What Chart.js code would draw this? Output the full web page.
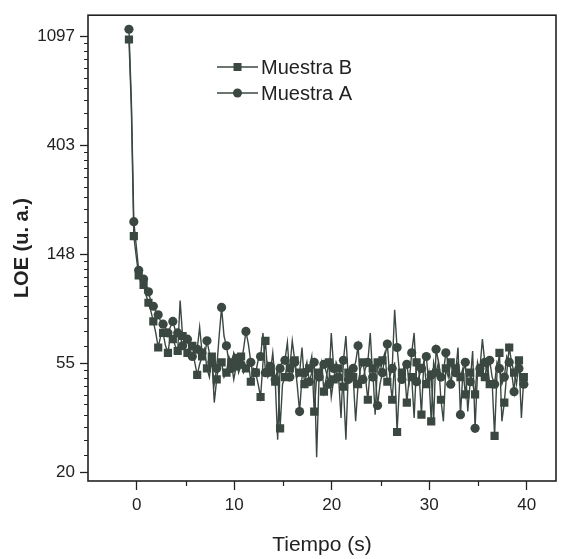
<!DOCTYPE html>
<html>
<head>
<meta charset="utf-8">
<script src="https://cdn.jsdelivr.net/npm/chart.js@4.4.1/dist/chart.umd.min.js"></script>
<style>
  html, body { margin: 0; padding: 0; background: #fff; }
  #wrap { width: 569px; height: 559px; }
</style>
</head>
<body>
<div id="wrap"><canvas id="loeChart" width="569" height="559"></canvas></div>
<script>
// Tiempo (s) de cada lectura
const tiempo = [
  -0.8,-0.55,-0.3,-0.05,0.2,0.45,0.7,0.95,1.2,1.45,1.7,1.95,2.2,2.45,2.7,2.95,3.2,3.45,3.7,3.95,
  4.2,4.45,4.7,4.95,5.2,5.45,5.7,5.95,6.2,6.45,6.7,6.95,7.2,7.45,7.7,7.95,8.2,8.45,8.7,8.95,
  9.2,9.45,9.7,9.95,10.2,10.45,10.7,10.95,11.2,11.45,11.7,11.95,12.2,12.45,12.7,12.95,13.2,13.45,13.7,13.95,
  14.2,14.45,14.7,14.95,15.2,15.45,15.7,15.95,16.2,16.45,16.7,16.95,17.2,17.45,17.7,17.95,18.2,18.45,18.7,18.95,
  19.2,19.45,19.7,19.95,20.2,20.45,20.7,20.95,21.2,21.45,21.7,21.95,22.2,22.45,22.7,22.95,23.2,23.45,23.7,23.95,
  24.2,24.45,24.7,24.95,25.2,25.45,25.7,25.95,26.2,26.45,26.7,26.95,27.2,27.45,27.7,27.95,28.2,28.45,28.7,28.95,
  29.2,29.45,29.7,29.95,30.2,30.45,30.7,30.95,31.2,31.45,31.7,31.95,32.2,32.45,32.7,32.95,33.2,33.45,33.7,33.95,
  34.2,34.45,34.7,34.95,35.2,35.45,35.7,35.95,36.2,36.45,36.7,36.95,37.2,37.45,37.7,37.95,38.2,38.45,38.7,38.95,
  39.2,39.45,39.7
];

// LOE (u. a.) - Muestra A (circulos)
const muestraA = [
  1169,600, 200,160, 128,122, 118,112, 105,96, 92,88, 85,80, 78,75, 72,76, 80,74,
  72,70, 64,66, 68,60, 58,62, 62,76, 60,58, 67,60, 55,45, 52,70, 91,70,
  64,55, 52,60, 57,50, 54,62, 73,65, 55,48, 50,56, 58,72, 50,55, 53,50,
  47,27, 52,56, 56,66, 48,50, 55,45, 35,48, 50,55, 46,50, 55,23, 48,52,
  54,50, 45,72, 52,50, 48,33, 56,70, 47,50, 52,55, 64,45, 47,52, 55,72,
  48,50, 37,45, 50,58, 65,48, 52,89, 63,50, 47,55, 54,46, 60,72, 46,48,
  52,55, 58,45, 49,32, 62,55, 48,50, 60,55, 45,52, 50,63, 34,50, 55,35,
  46,61, 30,50, 52,68, 55,50, 56,48, 45,55, 52,45, 48,58, 55,50, 42,56,
  52,48, 45
];

// LOE (u. a.) - Muestra B (cuadrados)
const muestraB = [
  1064,560, 175,145, 122,118, 112,102, 95,88, 80,72, 63,70, 72,64, 60,70, 68,64,
  61,97, 70,62, 60,66, 64,55, 49,54, 58,62, 52,48, 58,38, 47,56, 55,48,
  50,58, 55,47, 53,56, 58,50, 52,55, 46,52, 50,45, 40,55, 67,48, 50,60,
  46,52, 30,45, 48,54, 52,67, 56,48, 50,63, 45,50, 52,58, 35,48, 50,55,
  42,48, 55,40, 47,55, 52,48, 44,27, 50,52, 48,32, 45,52, 55,48, 39,52,
  52,34, 55,50, 56,60, 46,48, 39,55, 29,45, 50,52, 38,48, 48,33, 55,50,
  34,56, 45,50, 32,55, 50,55, 39,32, 52,48, 55,50, 52,55, 48,52, 41,50,
  50,45, 41,55, 50,50, 48,55, 45,46, 28,50, 60,32, 38,50, 63,55, 50,45,
  56,33, 48
];

// Ejes
const xTicks = [0, 10, 20, 30, 40];
const xMinorTicks = [5, 15, 25, 35];
const yTicks = [20.0855, 54.598, 148.41, 403.43, 1096.63];
const yTickLabels = ['20', '55', '148', '403', '1097'];

const ink = '#222222';
const serieColor = '#3a4841';
const fontFamily = '"Liberation Sans", Arial, sans-serif';

// minor ticks of the ln axis: 9 linear steps between two majors
const yMinorTicks = [];
for (let i = 0; i < yTicks.length - 1; i++) {
    const step = (yTicks[i + 1] - yTicks[i]) / 10;
    for (let k = 1; k < 10; k++) {
        yMinorTicks.push(yTicks[i] + k * step);
    }
}

function toPoints(values) {
    return values.map(function(v, i) {
        return { x: tiempo[i], y: v };
    });
}

// symbols only on every second reading
function everyOther(size) {
    return function(ctx) {
        return ctx.dataIndex % 2 === 0 ? size : 0;
    };
}

const legendItems = [
    { label: 'Muestra B', style: 'rect', y: 67 },
    { label: 'Muestra A', style: 'circle', y: 93 }
];

function drawMarker(ctx, style, x, y) {
    ctx.beginPath();
    if (style === 'rect') {
        ctx.rect(x - 4, y - 4, 8, 8);
    } else {
        ctx.arc(x, y, 4.5, 0, Math.PI * 2);
    }
    ctx.fill();
}

const frameAndExtras = {
    id: 'frameAndExtras',
    afterDraw(chart) {
        const ctx = chart.ctx;
        const a = chart.chartArea;
        const x = chart.scales.x;
        const y = chart.scales.y;
        ctx.save();

        // plot frame
        ctx.strokeStyle = ink;
        ctx.lineWidth = 1.6;
        ctx.strokeRect(a.left, a.top, a.right - a.left, a.bottom - a.top);

        // minor ticks
        ctx.lineWidth = 1.2;
        ctx.beginPath();
        xMinorTicks.forEach(function(v) {
            const px = Math.round(x.getPixelForValue(v)) + 0.5;
            ctx.moveTo(px, a.bottom);
            ctx.lineTo(px, a.bottom + 5);
        });
        yMinorTicks.forEach(function(v) {
            const py = Math.round(y.getPixelForValue(v)) + 0.5;
            ctx.moveTo(a.left, py);
            ctx.lineTo(a.left - 4, py);
        });
        ctx.stroke();

        // legend inside the plot
        ctx.font = '20px ' + fontFamily;
        ctx.textBaseline = 'middle';
        ctx.textAlign = 'left';
        legendItems.forEach(function(item) {
            ctx.strokeStyle = serieColor;
            ctx.fillStyle = serieColor;
            ctx.lineWidth = 1.4;
            ctx.beginPath();
            ctx.moveTo(217, item.y);
            ctx.lineTo(258, item.y);
            ctx.stroke();
            drawMarker(ctx, item.style, 237.5, item.y);
            ctx.fillStyle = ink;
            ctx.fillText(item.label, 261, item.y + 1);
        });

        ctx.restore();
    }
};

const loeChart = new Chart(document.getElementById('loeChart').getContext('2d'), {
    type: 'line',
    data: {
        datasets: [{
            label: 'Muestra B',
            data: toPoints(muestraB),
            borderColor: serieColor,
            backgroundColor: serieColor,
            borderWidth: 1.4,
            pointStyle: 'rect',
            pointRadius: everyOther(5.8),
            pointBorderWidth: 0,
            tension: 0,
            order: 1
        }, {
            label: 'Muestra A',
            data: toPoints(muestraA),
            borderColor: serieColor,
            backgroundColor: serieColor,
            borderWidth: 1.4,
            pointStyle: 'circle',
            pointRadius: everyOther(4.6),
            pointBorderWidth: 0,
            tension: 0,
            order: 0
        }]
    },
    options: {
        responsive: false,
        animation: false,
        events: [],
        layout: {
            padding: { left: 6, top: 12, right: 13, bottom: 0 }
        },
        plugins: {
            legend: { display: false },
            tooltip: { enabled: false }
        },
        scales: {
            x: {
                type: 'linear',
                min: -5,
                max: 43,
                afterBuildTicks: function(scale) {
                    scale.ticks = xTicks.map(function(v) { return { value: v }; });
                },
                afterFit: function(scale) {
                    scale.height = 78;
                },
                grid: {
                    drawOnChartArea: false,
                    drawTicks: true,
                    tickLength: 9,
                    tickColor: ink,
                    tickWidth: 1.3
                },
                border: { display: false },
                ticks: {
                    autoSkip: false,
                    maxRotation: 0,
                    padding: 5,
                    color: ink,
                    font: { family: fontFamily, size: 17 }
                },
                title: {
                    display: true,
                    text: 'Tiempo (s)',
                    color: ink,
                    padding: { top: 0, bottom: 1 },
                    font: { family: fontFamily, size: 21 }
                }
            },
            y: {
                type: 'logarithmic',
                min: 18.5,
                max: 1330,
                afterBuildTicks: function(scale) {
                    scale.ticks = yTicks.map(function(v) { return { value: v }; });
                },
                afterFit: function(scale) {
                    scale.width = 82;
                },
                grid: {
                    drawOnChartArea: false,
                    drawTicks: true,
                    tickLength: 8,
                    tickColor: ink,
                    tickWidth: 1.3
                },
                border: { display: false },
                ticks: {
                    autoSkip: false,
                    padding: 5,
                    color: ink,
                    font: { family: fontFamily, size: 17 },
                    callback: function(value, index) {
                        return yTickLabels[index];
                    }
                },
                title: {
                    display: true,
                    text: 'LOE (u. a.)',
                    color: ink,
                    padding: { top: 4, bottom: 4 },
                    font: { family: fontFamily, size: 20, weight: 'bold' }
                }
            }
        }
    },
    plugins: [frameAndExtras]
});
</script>
</body>
</html>
